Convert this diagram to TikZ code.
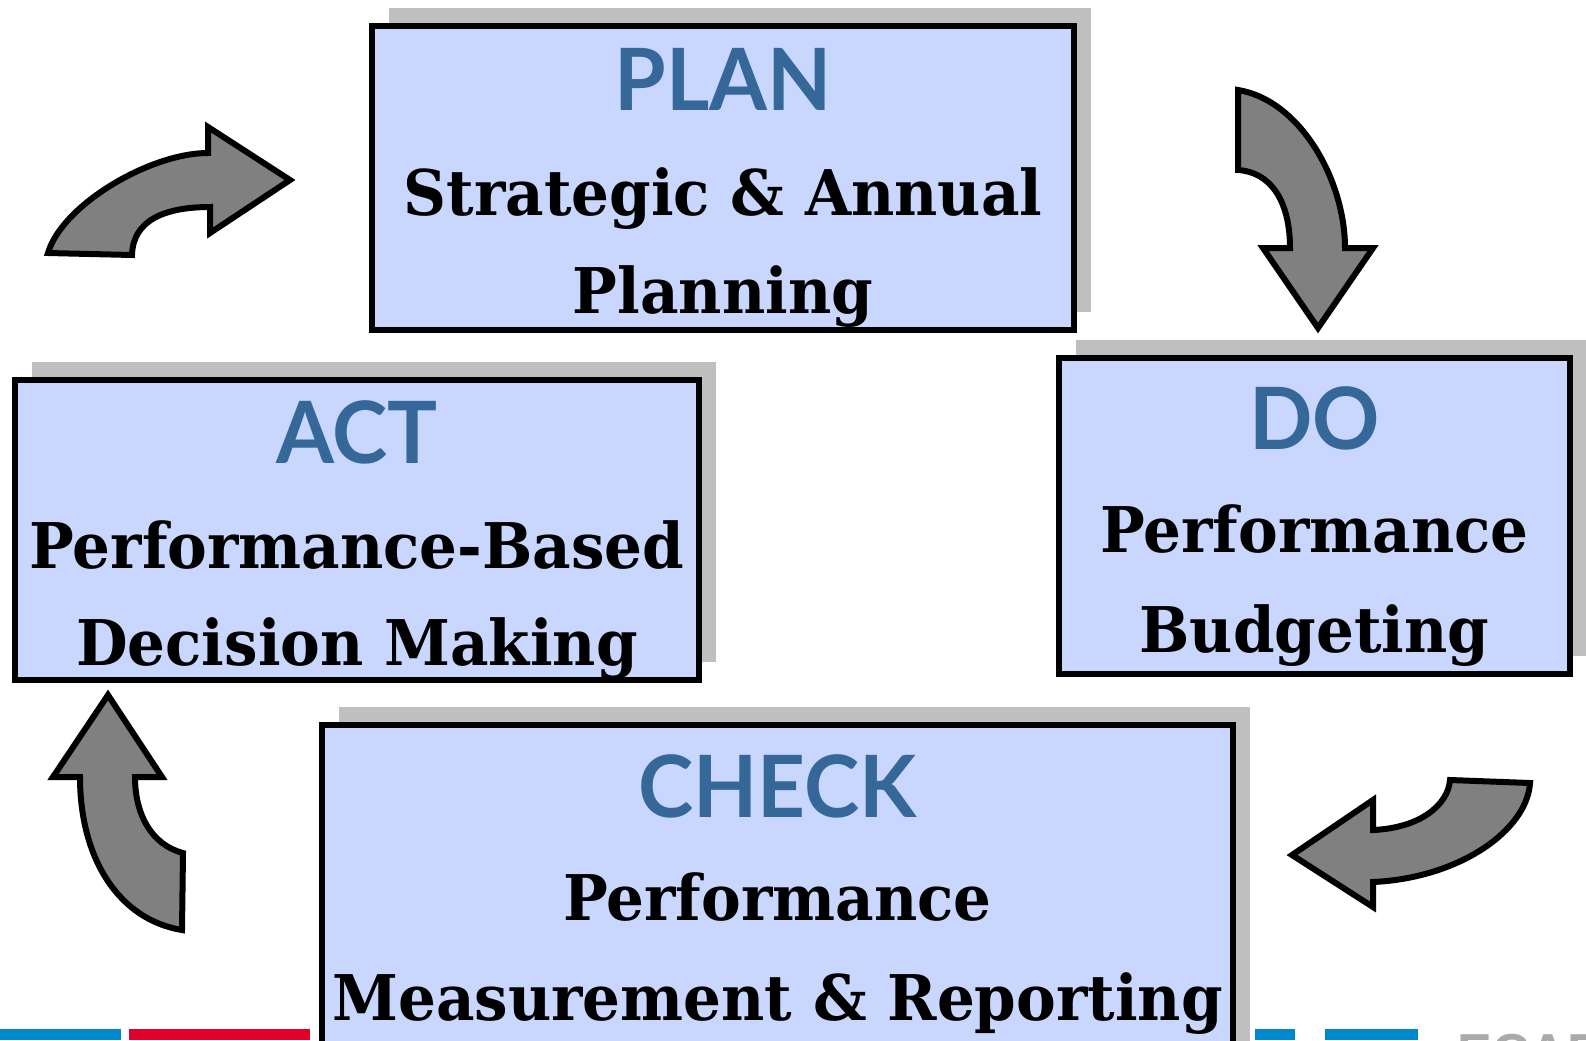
\documentclass[tikz,border=0pt]{standalone}
\usepackage{fontspec}
\setmainfont[FakeStretch=0.945]{DejaVu Serif}
\newfontfamily\headfont[FakeStretch=0.97]{Lato}
\newfontfamily\tagfont{Liberation Sans}
\usetikzlibrary{shadows}

\definecolor{boxfill}{RGB}{201,215,254}
\definecolor{headblue}{RGB}{53,104,153}
\definecolor{shadowgray}{RGB}{191,191,191}
\definecolor{arrowgray}{RGB}{128,128,128}
\definecolor{stripblue}{RGB}{0,136,204}
\definecolor{stripred}{RGB}{224,0,42}
\definecolor{taggray}{RGB}{170,170,170}

\tikzset{
  stage/.style={rectangle, draw=black, line width=3.3pt, fill=boxfill, inner sep=0pt,
    drop shadow={shadow xshift=8.5pt, shadow yshift=9pt, fill=shadowgray, opacity=1}},
  stagehead/.style={anchor=base, inner sep=0pt, text=headblue,
    font=\headfont\bfseries\fontsize{43}{43}\selectfont},
  stagetext/.style={anchor=base, inner sep=0pt,
    font=\bfseries\fontsize{31.5}{31.5}\selectfont},
  turnarrow/.style={draw=black, line width=3pt, fill=arrowgray, line join=miter}
}

\begin{document}
\begin{tikzpicture}[x=0.5pt, y=-0.5pt]
        \useasboundingbox (0,0) rectangle (1586,1040);
        \clip (0,0) rectangle (1586,1040);

        % Coloured strip along the bottom edge
        \fill[stripblue] (0,1029) rectangle (121,1040);
        \fill[stripred] (129,1029) rectangle (310,1040);
        \fill[stripblue] (1255,1029) rectangle (1295,1040);
        \fill[stripblue] (1325,1029) rectangle (1418,1040);
        \node[anchor=base west, inner sep=0pt, text=taggray,
              font=\tagfont\bfseries\fontsize{26}{26}\selectfont] (tag) at (1457,1070) {ECAF};

        % The four stage boxes
        \node[stage, minimum width=351pt, minimum height=152pt] (plan) at (723,178) {};
        \node[stage, minimum width=342pt, minimum height=150pt] (act) at (357,530) {};
        \node[stage, minimum width=255.5pt, minimum height=158pt] (do) at (1314.5,516) {};
        \node[stage, minimum width=455.5pt, minimum height=175pt] (check) at (777.5,900) {};

        % Heading and two text lines in each box
        \foreach \nm/\hd/\la/\lb/\yh/\ya/\yb in {
            plan/PLAN/Strategic \& Annual/Planning/110/215/313,
            act/ACT/Performance-Based/Decision Making/463/568/665,
            do/DO/Performance/Budgeting/449/552/652,
            check/CHECK/Performance/Measurement \& Reporting/817/920/1020} {
            \node[stagehead] (\nm-head) at (\nm.center |- 0,\yh) {\hd};
            \node[stagetext] (\nm-one) at (\nm.center |- 0,\ya) {\la};
            \node[stagetext] (\nm-two) at (\nm.center |- 0,\yb) {\lb};
        }

        % Curved block arrows round the cycle
        \draw[turnarrow] (48,253) .. controls (62,205) and (150,153) .. (208,153)
            -- (208,127) -- (290,180) -- (210,233) -- (210,207)
            .. controls (165,207) and (133,220) .. (132,255) -- cycle;
        \draw[turnarrow] (1238,90) .. controls (1300,100) and (1345,180) .. (1345,248)
            -- (1373,248) -- (1318,328) -- (1263,248) -- (1290,248)
            .. controls (1290,200) and (1270,172) .. (1238,170) -- cycle;
        \draw[turnarrow] (1530,783) .. controls (1527,830) and (1460,878) .. (1373,882)
            -- (1373,907) -- (1292,855) -- (1373,800) -- (1373,830)
            .. controls (1420,828) and (1448,805) .. (1450,780) -- cycle;
        \draw[turnarrow] (182,930) .. controls (120,920) and (80,860) .. (80,777)
            -- (53,777) -- (108,695) -- (162,777) -- (135,777)
            .. controls (135,815) and (152,845) .. (183,853) -- cycle;
\end{tikzpicture}
\end{document}
